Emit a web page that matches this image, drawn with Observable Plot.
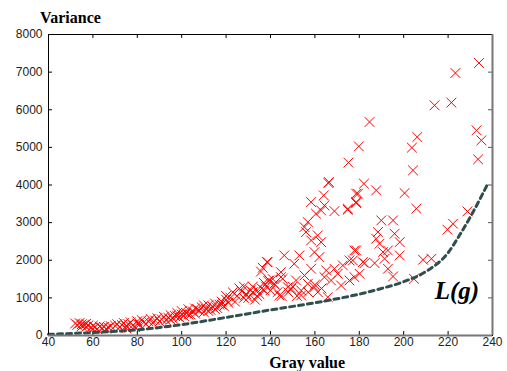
<!DOCTYPE html>
<html>
<head>
<meta charset="utf-8">
<script src="https://cdn.jsdelivr.net/npm/d3@7"></script>
<script src="https://cdn.jsdelivr.net/npm/@observablehq/plot@0.6"></script>
<style>
  html, body { margin: 0; padding: 0; background: #fff; }
  #chart svg { display: block; }
</style>
</head>
<body>
<div id="chart"></div>
<script>
// Measured samples: gray value (x) and variance (y)
const pointGray = [
  52,53,54,55,55,56,57,57,58,59,60,60,61,62,63,64,65,66,67,68,
  70,71,72,73,74,75,75,76,77,78,79,80,80,81,82,83,84,85,86,87,88,89,90,
  91,92,93,94,95,96,97,98,99,100,100,
  101,102,103,104,105,106,107,108,109,110,
  111,112,113,114,115,116,117,118,119,120,121,122,
  123,125,126,127,128,129,130,131,132,133,134,135,136,137,138,139,140,135.7,136.5,138.4,141,142,
  137.2,139.5,144.7,144,149.3,153.8,
  95,98,103,106,110,112,115,118,120,124,128,132,134,145,148,150,152,157,160,163,
  166.1,164.0,178.6,178.6,158.3,164.3,162.8,168.8,174.8,160.5,156.8,155.3,161.3,156.0,158.3,162.8,159.8,162.0,
  146.2,153.0,177.8,175.6,172.6,168.8,165.1,164.3,158.3,155.3,144.7,145.5,151.5,156.8,159.8,147.8,143.2,153.8,
  161.3,165.8,171.8,175.6,177.8,170.3,150.7,167.3,141.7,138.7,
  204.2,182.1,179.4,187.6,178.6,200.4,205.7,189.9,195.2,188.4,195.9,187.6,198.2,189.1,192.9,190.7,198.2,178.6,
  191.4,177.1,182.4,186.9,208.7,212.5,192.9,180.1,195.2,204.6,181.6,
  206.1,203.7,235.0,233.5,232.8,222.2,219.7,228.7,
  233.9,223.3,213.9,221.5,
  184.6,179.8,175.1,166.3,174.9
];
const pointVar = [
  320,280,330,250,300,290,230,310,270,200,260,180,220,170,240,200,230,180,210,250,
  260,300,220,280,330,250,190,300,350,270,220,320,380,290,410,350,300,380,440,330,400,460,370,
  430,500,400,470,540,450,520,600,480,560,650,
  520,600,700,560,640,580,700,660,750,620,
  700,800,680,760,850,730,820,900,780,950,870,1000,
  1150,1050,1250,1180,1300,1100,1000,1200,1150,950,1050,1100,1250,1400,1300,1450,1200,1700,1800,1950,1500,1350,
  1197,1463,1551,1064,1242,1064,
  420,520,560,720,800,650,700,820,1050,900,1000,1300,1200,1050,1150,1300,1050,1150,1350,1250,
  4051,3724,3769,3546,3546,3458,3325,3306,3343,3237,3014,2881,2660,2748,2527,2482,2216,2083,
  2128,2128,2261,1995,1862,1774,1729,1551,1774,1596,1684,1508,1463,1375,1285,1285,1152,1197,
  1152,1019,1330,1463,1551,1641,1907,1463,1375,1950,
  4389,4035,3769,3857,3519,3785,3370,3059,3059,2748,2705,2572,2482,2439,2261,2216,2128,2261,
  2040,1995,1923,1923,2014,2040,1774,1641,1569,1508,1950,
  5275,4993,5187,4682,5453,2971,2812,3298,
  7243,6977,6118,6189,
  5674,5027,4594,4078,3370
];
// Lower-bound curve L(g)
const curveGray = [40, 60, 80, 100, 120, 140, 160, 180, 190, 200, 210, 220, 225, 230, 235, 238];
const curveVar  = [30, 80, 150, 290, 480, 680, 870, 1100, 1250, 1430, 1700, 2200, 2650, 3150, 3700, 4050];
const xTicks = [40, 60, 80, 100, 120, 140, 160, 180, 200, 220, 240];
const yTicks = [0, 1000, 2000, 3000, 4000, 5000, 6000, 7000, 8000];
const yTitle = "Variance";
const xTitle = "Gray value";
const curveLabel = "L(g)";
const curveLabelPos = [224, 1170];
const yTitlePos = [49.9, 8430];
const xTitlePos = [156.5, -720];

const points = pointGray.map((g, i) => ({g, v: pointVar[i]}));
const curve = curveGray.map((g, i) => ({g, v: curveVar[i]}));

const W = 507, H = 371, mL = 48, mR = 15, mT = 34, mB = 36;
const fw = W - mL - mR, fh = H - mT - mB, tk = 4;
const serif = "'Liberation Serif', 'Times New Roman', serif";

const chart = Plot.plot({
  width: W, height: H,
  marginLeft: mL, marginRight: mR, marginTop: mT, marginBottom: mB,
  style: {fontFamily: "'Liberation Sans', Arial, sans-serif", fontSize: "12px", color: "#222", background: "#fff"},
  x: {domain: [40, 240]},
  y: {domain: [0, 8000]},
  marks: [
    Plot.axisX({ticks: xTicks, tickSize: 0, tickPadding: 2, label: null, tickFormat: d => String(d), fontSize: 12}),
    Plot.axisY({ticks: yTicks, tickSize: 0, tickPadding: 6, label: null, tickFormat: d => String(d), fontSize: 12}),
    Plot.ruleX(xTicks, {x: d => d, insetTop: fh - tk, stroke: "#000"}),
    Plot.ruleX(xTicks, {x: d => d, insetBottom: fh - tk, stroke: "#000"}),
    Plot.ruleY(yTicks, {y: d => d, insetRight: fw - tk, stroke: "#000"}),
    Plot.ruleY(yTicks, {y: d => d, insetLeft: fw - tk, stroke: "#555"}),
    Plot.dot(points, {x: "g", y: "v", symbol: "times", r: 4.5, stroke: "#ff0000", strokeWidth: 1}),
    Plot.line(curve, {x: "g", y: "v", curve: "monotone-x", stroke: "#2f4f4f", strokeWidth: 3, strokeDasharray: "5,4"}),
    Plot.frame({stroke: "#000"}),
    Plot.ruleY([0], {stroke: "#777", strokeWidth: 2}),
    Plot.ruleX([240], {stroke: "#777", strokeWidth: 2}),
    Plot.text([curveLabel], {x: curveLabelPos[0], y: curveLabelPos[1], text: d => d,
      fontFamily: serif, fontWeight: "bold", fontStyle: "italic",
      fontSize: 25, fill: "#000", textAnchor: "middle"}),
    Plot.text([yTitle], {x: yTitlePos[0], y: yTitlePos[1], text: d => d, textAnchor: "middle",
      fontFamily: serif, fontWeight: "bold", fontSize: 16, fill: "#000"}),
    Plot.text([xTitle], {x: xTitlePos[0], y: xTitlePos[1], text: d => d, textAnchor: "middle",
      fontFamily: serif, fontWeight: "bold", fontSize: 16, fill: "#000"})
  ]
});
document.getElementById("chart").appendChild(chart);
</script>
</body>
</html>
